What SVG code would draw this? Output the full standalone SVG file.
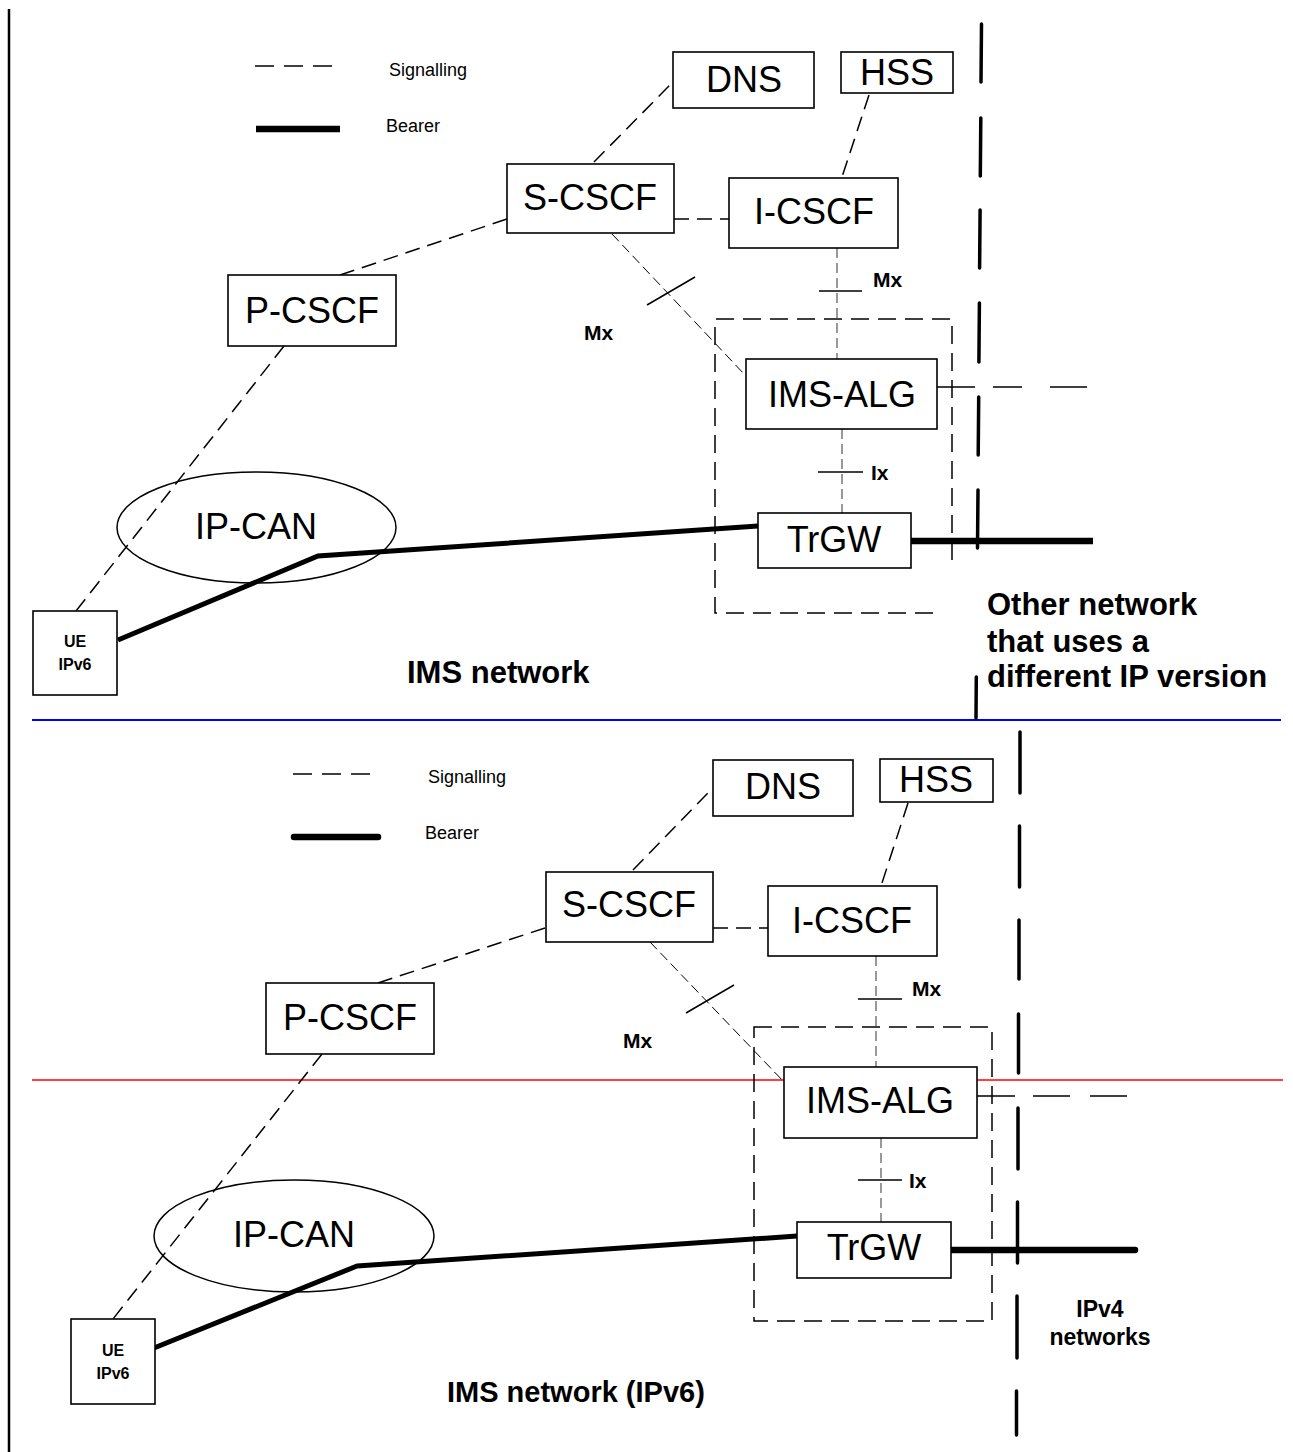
<svg xmlns="http://www.w3.org/2000/svg" width="1293" height="1452" viewBox="0 0 1293 1452">
<style>
.box{fill:#fff;stroke:#000;stroke-width:1.6}
.lbl{font-family:"Liberation Sans",Arial,sans-serif;font-size:36px;text-anchor:middle;fill:#000}
.b{font-family:"Liberation Sans",Arial,sans-serif;font-weight:bold;fill:#000}
.leg{font-family:"Liberation Sans",Arial,sans-serif;font-size:18px;fill:#000}
.sig{fill:none;stroke:#000;stroke-width:1.5;stroke-dasharray:15 8}
.thin{fill:none;stroke:#000;stroke-width:1;stroke-dasharray:10 5}
.thinv{fill:none;stroke:#333;stroke-width:1;stroke-dasharray:10 5}
.tick{fill:none;stroke:#000;stroke-width:1.5}
.bearer{fill:none;stroke:#000;stroke-width:5}
.dbox{fill:none;stroke:#000;stroke-width:1.5;stroke-dasharray:18 9}
.div{fill:none;stroke:#000;stroke-width:3.5;stroke-linecap:round}
</style>

<!-- frame / separators -->
<g id="frame">
<line x1="9" y1="9" x2="9" y2="1452" stroke="#000" stroke-width="2.5"/>
<line x1="32" y1="720" x2="1281" y2="720" stroke="#0000ff" stroke-width="2"/>
<line x1="32" y1="1080" x2="1283" y2="1080" stroke="#ff0000" stroke-width="1.5"/>
<path class="div" d="M981.5 24 L981 82 M980.8 118 L980.3 176 M980.1 210 L979.6 268 M979.4 303 L978.9 362 M978.7 397 L978.2 455 M978 490 L977.5 548 M976.3 677 L976 718"/>
<path class="div" d="M1020 732 L1020 793 M1019.5 826 L1019.5 887 M1019 920 L1019 979 M1018.5 1014 L1018.5 1073 M1018 1108 L1018 1169 M1017.5 1202 L1017.5 1263 M1017 1296 L1017 1358 M1016.5 1391 L1016.5 1435"/>
</g>

<!-- legends -->
<g id="legend-top">
<line x1="255" y1="66" x2="333" y2="66" stroke="#000" stroke-width="1.5" stroke-dasharray="19 10"/>
<text class="leg" x="389" y="76">Signalling</text>
<line x1="256" y1="129" x2="340" y2="129" stroke="#000" stroke-width="6.5"/>
<text class="leg" x="386" y="132">Bearer</text>
</g>
<g id="legend-bottom">
<line x1="293" y1="774" x2="371" y2="774" stroke="#000" stroke-width="1.5" stroke-dasharray="19 10"/>
<text class="leg" x="428" y="783">Signalling</text>
<line x1="294" y1="837" x2="378" y2="837" stroke="#000" stroke-width="6.5" stroke-linecap="round"/>
<text class="leg" x="425" y="839">Bearer</text>
</g>

<!-- connectors -->
<g id="connectors">
<!-- top -->
<line class="sig" x1="594" y1="162" x2="670" y2="85"/>
<line class="sig" x1="869" y1="95" x2="842" y2="177"/>
<line class="sig" x1="674" y1="219" x2="729" y2="219"/>
<line class="sig" x1="340" y1="275" x2="507" y2="219"/>
<line class="sig" x1="284" y1="346" x2="76" y2="611"/>
<line class="thin" x1="612" y1="234" x2="745" y2="375"/>
<line class="tick" x1="647" y1="305" x2="695" y2="277"/>
<line class="thinv" x1="837" y1="248" x2="837" y2="359"/>
<line class="tick" x1="819" y1="291" x2="862" y2="291"/>
<line class="thinv" x1="842" y1="429" x2="842" y2="513"/>
<line class="tick" x1="818" y1="472" x2="863" y2="472"/>
<line x1="937" y1="387" x2="1087" y2="387" stroke="#000" stroke-width="1.5" stroke-dasharray="38 18 29 28 37"/>
<polyline class="bearer" points="118,640 318,556 758,526"/>
<line x1="911" y1="541" x2="1093" y2="541" stroke="#000" stroke-width="6.5"/>
<!-- bottom -->
<line class="sig" x1="633" y1="870" x2="708" y2="793"/>
<line class="sig" x1="908" y1="803" x2="881" y2="886"/>
<line class="sig" x1="713" y1="928" x2="768" y2="928"/>
<line class="sig" x1="378" y1="983" x2="545" y2="928"/>
<line class="sig" x1="322" y1="1054" x2="113" y2="1319"/>
<line class="thin" x1="650" y1="942" x2="785" y2="1083"/>
<line class="tick" x1="686" y1="1013" x2="734" y2="985"/>
<line class="thinv" x1="876" y1="956" x2="876" y2="1067"/>
<line class="tick" x1="858" y1="999" x2="902" y2="999"/>
<line class="thinv" x1="881" y1="1138" x2="881" y2="1222"/>
<line class="tick" x1="858" y1="1180" x2="902" y2="1180"/>
<line x1="977" y1="1096" x2="1127" y2="1096" stroke="#000" stroke-width="1.5" stroke-dasharray="38 18 37 20 37"/>
<polyline class="bearer" points="154,1348 357,1266 797,1236" stroke-linecap="round" stroke-linejoin="round"/>
<line x1="951" y1="1250" x2="1135" y2="1250" stroke="#000" stroke-width="6.5" stroke-linecap="round"/>
</g>

<!-- dashed IMS-ALG/TrGW enclosures -->
<g id="enclosure-top"><path class="dbox" d="M952 560 L952 319 L715 319 L715 613 L937 613"/></g>
<g id="enclosure-bottom"><rect class="dbox" x="754" y="1027" width="238" height="294"/></g>

<!-- top nodes -->
<g id="dns-top"><rect class="box" x="673" y="52" width="141" height="56"/><text class="lbl" x="744" y="92">DNS</text></g>
<g id="hss-top"><rect class="box" x="841" y="52" width="112" height="41"/><text class="lbl" x="897" y="85">HSS</text></g>
<g id="scscf-top"><rect class="box" x="507" y="164" width="167" height="69"/><text class="lbl" x="590" y="210">S-CSCF</text></g>
<g id="icscf-top"><rect class="box" x="729" y="178" width="169" height="70"/><text class="lbl" x="814" y="224">I-CSCF</text></g>
<g id="pcscf-top"><rect class="box" x="228" y="275" width="168" height="71"/><text class="lbl" x="312" y="323">P-CSCF</text></g>
<g id="imsalg-top"><rect class="box" x="746" y="359" width="191" height="70"/><text class="lbl" x="842" y="407">IMS-ALG</text></g>
<g id="trgw-top"><rect class="box" x="758" y="513" width="153" height="55"/><text class="lbl" x="834" y="552">TrGW</text></g>
<g id="ipcan-top"><ellipse cx="256.5" cy="527.5" rx="139.5" ry="55.5" fill="none" stroke="#000" stroke-width="1.5"/><text class="lbl" x="256" y="539">IP-CAN</text></g>
<g id="ue-top"><rect class="box" x="33" y="611" width="84" height="84"/><text class="b" x="75" y="647" font-size="16" text-anchor="middle">UE</text><text class="b" x="75" y="670" font-size="16" text-anchor="middle">IPv6</text></g>

<!-- top labels -->
<g id="labels-top">
<text class="b" x="873" y="287" font-size="21">Mx</text>
<text class="b" x="584" y="340" font-size="21">Mx</text>
<text class="b" x="871" y="480" font-size="21">Ix</text>
<text class="b" x="407" y="683" font-size="31">IMS network</text>
<text class="b" x="987" y="615" font-size="31">Other network</text>
<text class="b" x="987" y="652" font-size="31">that uses a</text>
<text class="b" x="987" y="687" font-size="31">different IP version</text>
</g>

<!-- bottom nodes -->
<g id="dns-bottom"><rect class="box" x="713" y="760" width="140" height="56"/><text class="lbl" x="783" y="799">DNS</text></g>
<g id="hss-bottom"><rect class="box" x="880" y="759" width="113" height="43"/><text class="lbl" x="936" y="792">HSS</text></g>
<g id="scscf-bottom"><rect class="box" x="546" y="872" width="167" height="70"/><text class="lbl" x="629" y="917">S-CSCF</text></g>
<g id="icscf-bottom"><rect class="box" x="768" y="886" width="169" height="70"/><text class="lbl" x="852" y="933">I-CSCF</text></g>
<g id="pcscf-bottom"><rect class="box" x="266" y="983" width="168" height="71"/><text class="lbl" x="350" y="1030">P-CSCF</text></g>
<g id="imsalg-bottom"><rect class="box" x="784" y="1067" width="193" height="71"/><text class="lbl" x="880" y="1113">IMS-ALG</text></g>
<g id="trgw-bottom"><rect class="box" x="797" y="1222" width="154" height="56"/><text class="lbl" x="874" y="1260">TrGW</text></g>
<g id="ipcan-bottom"><ellipse cx="294" cy="1236" rx="140" ry="56" fill="none" stroke="#000" stroke-width="1.5"/><text class="lbl" x="294" y="1247">IP-CAN</text></g>
<g id="ue-bottom"><rect class="box" x="71" y="1319" width="84" height="85"/><text class="b" x="113" y="1356" font-size="16" text-anchor="middle">UE</text><text class="b" x="113" y="1379" font-size="16" text-anchor="middle">IPv6</text></g>

<!-- bottom labels -->
<g id="labels-bottom">
<text class="b" x="912" y="996" font-size="21">Mx</text>
<text class="b" x="623" y="1048" font-size="21">Mx</text>
<text class="b" x="909" y="1188" font-size="21">Ix</text>
<text class="b" x="1100" y="1317" font-size="23" text-anchor="middle">IPv4</text>
<text class="b" x="1100" y="1345" font-size="23" text-anchor="middle">networks</text>
<text class="b" x="447" y="1402" font-size="29">IMS network (IPv6)</text>
</g>
</svg>
